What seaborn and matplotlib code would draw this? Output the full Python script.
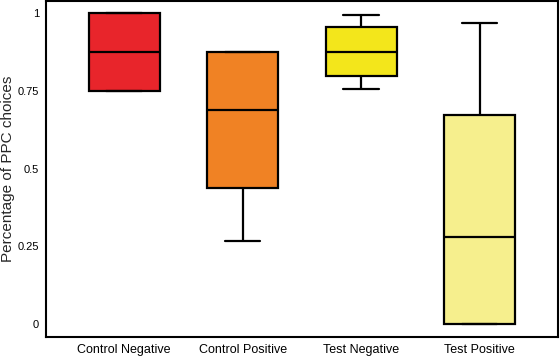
import matplotlib
matplotlib.use("Agg")
import matplotlib.pyplot as plt
import seaborn as sns
import pandas as pd

# Each group: [min, Q1, median, Q3, max]
categories = ["Control Negative", "Control Positive", "Test Negative", "Test Positive"]
control_negative = [0.75, 0.75, 0.875, 1.0, 1.0]
control_positive = [0.267, 0.437, 0.688, 0.875, 0.875]
test_negative = [0.756, 0.797, 0.875, 0.955, 0.994]
test_positive = [0.0, 0.0, 0.28, 0.672, 0.968]
colors = ["#E8252B", "#F08224", "#F3E61B", "#F6EF8D"]
yticks = [0, 0.25, 0.5, 0.75, 1]
ytick_labels = ["0", "0.25", "0.5", "0.75", "1"]

rows = []
for cat, vals in zip(categories, [control_negative, control_positive, test_negative, test_positive]):
    for v in vals:
        rows.append({"group": cat, "value": v})
df = pd.DataFrame(rows)

sns.set_style("white")
plt.rcParams["font.family"] = ["Liberation Sans", "DejaVu Sans"]

fig, ax = plt.subplots(figsize=(5.6, 3.56), dpi=100)
fig.subplots_adjust(left=0.082, right=0.996, top=0.997, bottom=0.053)

sns.boxplot(data=df, x="group", y="value", hue="group", order=categories,
            hue_order=categories, palette=colors, whis=(0, 100), width=0.6,
            linewidth=1.6, linecolor="black", showfliers=False, saturation=1,
            legend=False, ax=ax,
            medianprops={"color": "black", "linewidth": 1.6},
            whiskerprops={"color": "black", "linewidth": 1.6},
            capprops={"color": "black", "linewidth": 1.6})

ax.set_xlim(-0.66, 3.66)
ax.set_ylim(-0.042, 1.039)
ax.set_yticks(yticks)
ax.set_yticklabels(ytick_labels)
ax.set_xlabel("")
ax.set_ylabel("Percentage of PPC choices", fontsize=11)
ax.yaxis.set_label_coords(-0.061, 0.5)
ax.tick_params(axis="both", direction="in", length=3, width=1, colors="black", pad=5)
ax.tick_params(axis="y", labelsize=8)
ax.tick_params(axis="x", labelsize=9)
for s in ax.spines.values():
    s.set_visible(True)
    s.set_color("black")
    s.set_linewidth(1.5)

fig.savefig("out.png", dpi=100)
